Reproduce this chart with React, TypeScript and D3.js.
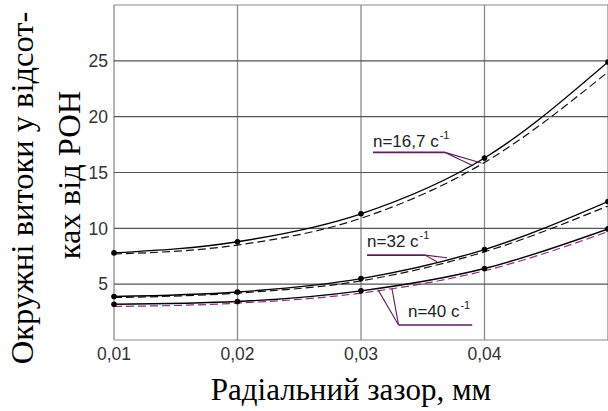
import React, { useEffect, useRef } from 'react';
import * as d3 from 'd3';

// radial gap, mm
const gaps = [0.01, 0.02, 0.03, 0.04, 0.05];

// circumferential leakage, % of the pump flow (solid = calculated, dashed = second set)
const n167Solid = [7.8, 8.8, 11.3, 16.3, 24.9];
const n167Dashed = [7.7, 8.5, 10.9, 15.9, 24.0];
const n32Solid = [3.9, 4.3, 5.5, 8.1, 12.4];
const n32Dashed = [3.8, 4.2, 5.3, 7.9, 12.0];
const n40Solid = [3.2, 3.45, 4.4, 6.4, 9.95];
const n40Dashed = [3.0, 3.3, 4.2, 6.2, 9.7];

const xTicks = [0.01, 0.02, 0.03, 0.04, 0.05];
const xTickLabels = ['0,01', '0,02', '0,03', '0,04', ''];
const yTicks = [5, 10, 15, 20, 25];

const labels = ['n=16,7 c', 'n=32 c', 'n=40 c'];

const SANS = '"Liberation Sans", Arial, sans-serif';
const SERIF = '"Liberation Serif", "Times New Roman", "DejaVu Serif", serif';

const App: React.FC = () => {
  const svgRef = useRef<SVGSVGElement>(null);

  useEffect(() => {
    if (!svgRef.current) return;
    const svg = d3.select(svgRef.current);
    svg.selectAll('*').remove();

    const margin = { top: 5, right: 0, bottom: 71, left: 114 };
    const W = 608;
    const H = 411;

    const x = d3.scaleLinear().domain([0.01, 0.05]).range([margin.left, W - margin.right]);
    const y = d3.scaleLinear().domain([0, 30]).range([H - margin.bottom, margin.top]);

    // plot frame + grid
    const grid = svg.append('g');
    grid
      .selectAll('.vx')
      .data(xTicks)
      .enter()
      .append('line')
      .attr('x1', d => x(d))
      .attr('x2', d => x(d))
      .attr('y1', y(30))
      .attr('y2', y(0))
      .attr('stroke', '#8a8a8a')
      .attr('stroke-width', 1.3);
    grid
      .selectAll('.hy')
      .data([0, ...yTicks, 30])
      .enter()
      .append('line')
      .attr('x1', x(0.01))
      .attr('x2', W)
      .attr('y1', d => y(d))
      .attr('y2', d => y(d))
      .attr('stroke', d => (d === 0 || d === 30 ? '#8a8a8a' : '#555'))
      .attr('stroke-width', 1.2);

    // tick labels
    svg
      .selectAll('.yt')
      .data(yTicks)
      .enter()
      .append('text')
      .attr('x', x(0.01) - 6)
      .attr('y', d => y(d))
      .attr('dy', '0.36em')
      .attr('text-anchor', 'end')
      .attr('font-family', SANS)
      .attr('font-size', 17.5)
      .attr('fill', '#333')
      .text(d => d);
    svg
      .selectAll('.xt')
      .data(xTicks)
      .enter()
      .append('text')
      .attr('x', d => x(d))
      .attr('y', y(0) + 20)
      .attr('text-anchor', 'middle')
      .attr('font-family', SANS)
      .attr('font-size', 17.5)
      .attr('fill', '#333')
      .text((d, i) => xTickLabels[i]);

    // axis titles
    svg
      .append('text')
      .attr('x', 351)
      .attr('y', 400)
      .attr('text-anchor', 'middle')
      .attr('font-family', SERIF)
      .attr('font-size', 31)
      .attr('fill', '#000')
      .text('Радіальний зазор, мм');
    const yl = svg
      .append('text')
      .attr('transform', 'translate(0,188) rotate(-90)')
      .attr('text-anchor', 'middle')
      .attr('font-family', SERIF)
      .attr('font-size', 32.5)
      .attr('fill', '#000');
    yl.append('tspan').attr('x', 0).attr('y', 33).text('Окружні витоки у відсот-');
    yl.append('tspan').attr('x', 13).attr('y', 80).text('ках від РОН');

    // curves
    const line = d3
      .line<number>()
      .x((d, i) => x(gaps[i]))
      .y(d => y(d))
      .curve(d3.curveMonotoneX);

    const dashed = [
      { v: n167Dashed, c: '#111' },
      { v: n32Dashed, c: '#111' },
      { v: n40Dashed, c: '#8a2f7e' },
    ];
    dashed.forEach(s => {
      svg
        .append('path')
        .datum(s.v)
        .attr('d', line)
        .attr('fill', 'none')
        .attr('stroke', s.c)
        .attr('stroke-width', 1.2)
        .attr('stroke-dasharray', '8,4');
    });

    [n167Solid, n32Solid, n40Solid].forEach(v => {
      svg
        .append('path')
        .datum(v)
        .attr('d', line)
        .attr('fill', 'none')
        .attr('stroke', '#000')
        .attr('stroke-width', 1.4);
      svg
        .selectAll(null)
        .data(v)
        .enter()
        .append('circle')
        .attr('cx', (d, i) => x(gaps[i]))
        .attr('cy', d => y(d))
        .attr('r', 2.8)
        .attr('fill', '#000');
    });

    // callouts: text position, underline end, leader tips (in data units)
    const callouts = [
      { t: labels[0], tx: 0.03097, ty: 17.3, ux: 0.0368, uy: 16.8, from: 'end', tips: [[0.03907, 15.6], [0.03975, 15.85]] },
      { t: labels[1], tx: 0.03049, ty: 8.3, ux: 0.03518, uy: 7.6, from: 'end', tips: [[0.03696, 7.37], [0.03615, 7.0]] },
      { t: labels[2], tx: 0.0338, ty: 2.07, ux: 0.03304, uy: 1.35, from: 'start', tips: [[0.03138, 4.49], [0.03251, 4.58]] },
    ];
    callouts.forEach(c => {
      const t = svg
        .append('text')
        .attr('x', x(c.tx))
        .attr('y', y(c.ty))
        .attr('font-family', SANS)
        .attr('font-size', 17)
        .attr('fill', '#222');
      t.append('tspan').text(c.t);
      t.append('tspan').attr('dx', 1).attr('dy', -8).attr('font-size', 11).text('-1');
      const bb = (t.node() as SVGTextElement).getBBox();
      const ux1 = c.from === 'end' ? bb.x : x(c.ux);
      const ux2 = c.from === 'end' ? x(c.ux) : bb.x + bb.width + 2;
      const uy = y(c.uy);
      svg
        .append('line')
        .attr('x1', ux1)
        .attr('x2', ux2)
        .attr('y1', uy)
        .attr('y2', uy)
        .attr('stroke', '#5c1f5a')
        .attr('stroke-width', 1.6);
      const ox = c.from === 'end' ? ux2 : ux1;
      c.tips.forEach(p => {
        svg
          .append('line')
          .attr('x1', ox)
          .attr('y1', uy)
          .attr('x2', x(p[0]))
          .attr('y2', y(p[1]))
          .attr('stroke', '#5c1f5a')
          .attr('stroke-width', 1.1);
      });
    });
  }, []);

  return (
    <svg
      ref={svgRef}
      width={608}
      height={411}
      style={{ position: 'absolute', left: 0, top: 0, background: '#fff' }}
    />
  );
};

export default App;
